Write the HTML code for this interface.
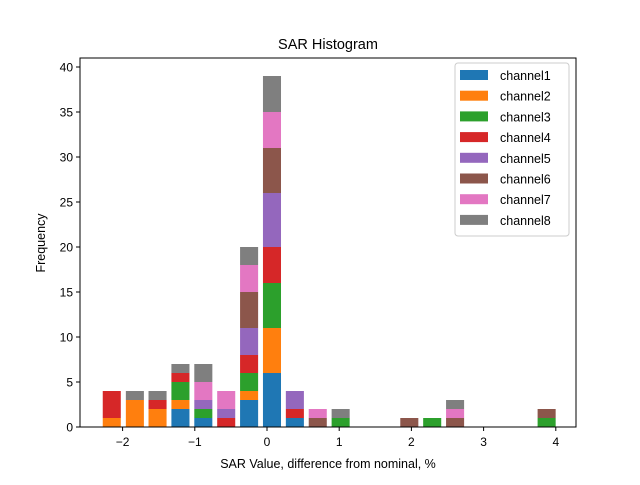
<!DOCTYPE html>
<html><head><meta charset="utf-8"><style>
body{margin:0;background:#fff}
svg{font-family:"Liberation Sans","DejaVu Sans",sans-serif}
</style></head><body>
<svg id="c" width="640" height="480">
<rect width="640" height="480" fill="#fff"/>
<text x="328" y="49" text-anchor="middle" font-size="14.5">SAR Histogram</text>
<g id="bars"></g>
<rect x="80" y="58" width="496" height="369" fill="none" stroke="#000" stroke-width="1"/>
<g id="axes" font-size="12"></g>
<text x="328" y="468" text-anchor="middle" font-size="12.5">SAR Value, difference from nominal, %</text>
<text transform="translate(45,243) rotate(-90)" text-anchor="middle" font-size="12.5">Frequency</text>
<g id="legend" font-size="12.5"></g>
</svg>
<script>
const channels=["channel1","channel2","channel3","channel4","channel5","channel6","channel7","channel8"];
const colors=["#1f77b4","#ff7f0e","#2ca02c","#d62728","#9467bd","#8c564b","#e377c2","#7f7f7f"];
const binCenters=[-2.15,-1.83,-1.516,-1.199,-0.882,-0.565,-0.248,0.069,0.386,0.703,1.02,1.337,1.654,1.971,2.288,2.605,2.922,3.239,3.556,3.873];
const ch1=[0,0,0,2,1,0,3,6,1,0,0,0,0,0,0,0,0,0,0,0];
const ch2=[1,3,2,1,0,0,1,5,0,0,0,0,0,0,0,0,0,0,0,0];
const ch3=[0,0,0,2,1,0,2,5,0,0,1,0,0,0,1,0,0,0,0,1];
const ch4=[3,0,1,1,0,1,2,4,1,0,0,0,0,0,0,0,0,0,0,0];
const ch5=[0,0,0,0,1,1,3,6,2,0,0,0,0,0,0,0,0,0,0,0];
const ch6=[0,0,0,0,0,0,4,5,0,1,0,0,0,1,0,1,0,0,0,1];
const ch7=[0,0,0,0,2,2,3,4,0,1,0,0,0,0,0,1,0,0,0,0];
const ch8=[0,1,1,1,2,0,2,4,0,0,1,0,0,0,0,1,0,0,0,0];
const series=[ch1,ch2,ch3,ch4,ch5,ch6,ch7,ch8];
const xTicks=[-2,-1,0,1,2,3,4];
const yTicks=[0,5,10,15,20,25,30,35,40];
const barWidth=0.25;
const NS="http://www.w3.org/2000/svg";
const xs=v=>267+v*72.2;
const ys=v=>427-v*9;
function mk(t,a){const e=document.createElementNS(NS,t);for(const k in a)e.setAttribute(k,a[k]);return e;}
const bars=document.getElementById('bars');
binCenters.forEach((c,i)=>{let base=0;
 series.forEach((s,j)=>{const v=s[i];if(!v)return;
  const r=mk('rect',{x:xs(c-barWidth/2),y:ys(base+v),width:xs(barWidth)-xs(0),height:ys(base)-ys(base+v),fill:colors[j]});
  
  
  bars.appendChild(r);base+=v;});});
const ax=document.getElementById('axes');
xTicks.forEach(t=>{const x=xs(t);
 const l=mk('line',{x1:x,x2:x,y1:427,y2:431,stroke:'#000'});
 ax.appendChild(l);
 const tx=mk('text',{x:x,y:446,'text-anchor':'middle'});tx.textContent=t<0?'\u2212'+(-t):t;
 ax.appendChild(tx);});
yTicks.forEach(t=>{const y=ys(t);
 const l=mk('line',{x1:76,x2:80,y1:y,y2:y,stroke:'#000'});
 ax.appendChild(l);
 const tx=mk('text',{x:73,y:y+4.5,'text-anchor':'end'});tx.textContent=t;
 ax.appendChild(tx);});
const lg=document.getElementById('legend');
const box=mk('rect',{x:455,y:63,width:114,height:173,rx:3,fill:'#fff','fill-opacity':0.8,stroke:'#ccc'});
lg.appendChild(box);
channels.forEach((n,i)=>{const y=69+i*20.7;
 const g=mk('g',{});
 g.appendChild(mk('rect',{x:460,y:y+1,width:28,height:10,fill:colors[i]}));
 const t=mk('text',{x:500,y:y+11});t.textContent=n;g.appendChild(t);lg.appendChild(g);});
</script>
</body></html>
